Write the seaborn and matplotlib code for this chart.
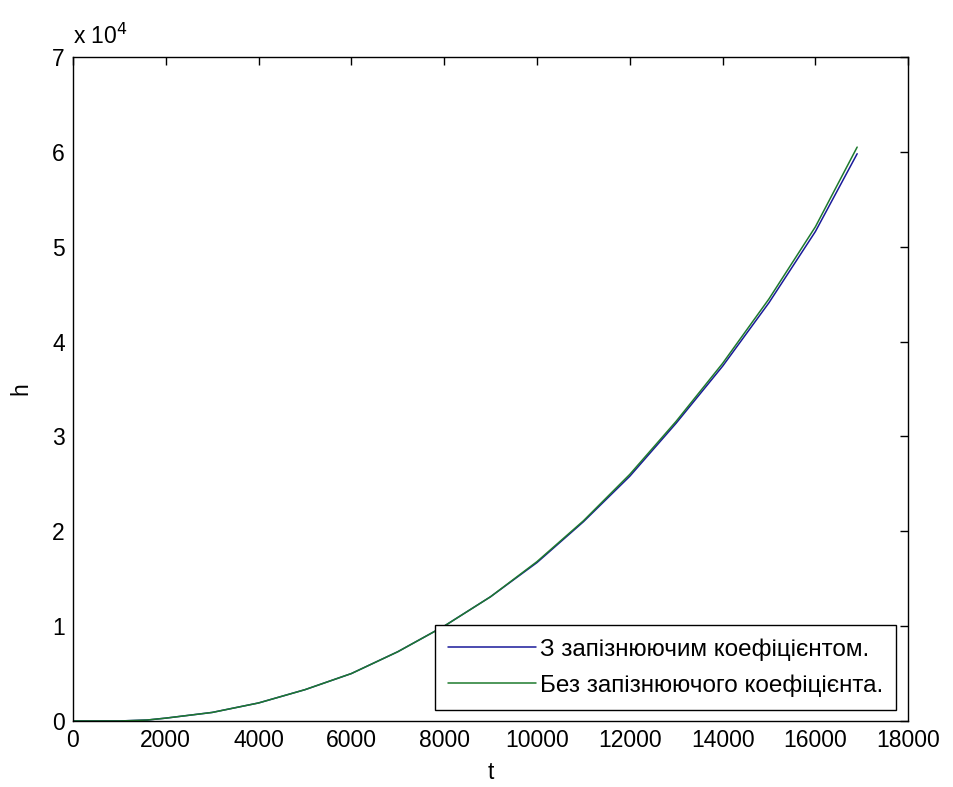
import pandas as pd
import matplotlib
matplotlib.use("Agg")
import matplotlib.pyplot as plt
import matplotlib.ticker as mticker
import seaborn as sns

# values (h in units of 10^4)
t = [0, 1000, 1600, 2000, 3000, 4000, 5000, 6000, 7000, 8000,
     9000, 10000, 11000, 12000, 13000, 14000, 15000, 16000, 16900]
h_lag = [0, 0, 0.01, 0.03, 0.09, 0.19, 0.33, 0.50, 0.73, 1.00,
         1.31, 1.67, 2.10, 2.58, 3.14, 3.74, 4.41, 5.16, 5.98]
h_nolag = [0, 0, 0.01, 0.03, 0.09, 0.19, 0.33, 0.50, 0.73, 1.00,
           1.31, 1.68, 2.11, 2.60, 3.16, 3.77, 4.45, 5.21, 6.05]
labels = ["З запізнюючим коефіцієнтом.", "Без запізнюючого коефіцієнта."]

df = pd.concat([
    pd.DataFrame({"t": t, "h": [v * 1e4 for v in h_lag], "series": labels[0]}),
    pd.DataFrame({"t": t, "h": [v * 1e4 for v in h_nolag], "series": labels[1]}),
])

sns.set_style("white")
plt.rcParams["font.family"] = ["Liberation Sans", "DejaVu Sans"]
plt.rcParams["text.color"] = "black"
plt.rcParams["axes.labelcolor"] = "black"

fig = plt.figure(figsize=(9.54, 7.87), dpi=100)
ax = fig.add_axes([0.0765, 0.0839, 0.8755, 0.8437])

sns.lineplot(data=df, x="t", y="h", hue="series", sort=False,
             palette=["#1a1a9a", "#1e7a2e"], linewidth=1.1, ax=ax)

ax.set_xlim(0, 18000)
ax.set_ylim(0, 70000)
ax.set_xticks(range(0, 18001, 2000))
ax.set_yticks(range(0, 70001, 10000))
ax.yaxis.set_major_formatter(mticker.FuncFormatter(lambda v, p: f"{v / 1e4:g}"))
ax.tick_params(direction="in", length=6, width=1, top=True, right=True,
               labelsize=16.5, colors="black", pad=6)
for s in ax.spines.values():
    s.set_visible(True)
    s.set_color("black")
    s.set_linewidth(1)

ax.set_xlabel("t", fontsize=16.5, labelpad=6)
ax.set_ylabel("h", fontsize=16.5, labelpad=14)
ax.text(0.0, 1.012, r"x 10$^4$", transform=ax.transAxes, fontsize=16.5,
        ha="left", va="bottom")

leg = ax.legend(loc="lower right", bbox_to_anchor=(0.9856, 0.0166), borderaxespad=0,
                fontsize=17.5, frameon=True, fancybox=False, handlelength=3.6,
                borderpad=0.55, labelspacing=0.55, handletextpad=0.15)
leg.get_frame().set_edgecolor("black")
leg.get_frame().set_linewidth(1)
leg.get_frame().set_alpha(1)
for txt in leg.get_texts():
    txt.set_color("black")

fig.savefig("out.png", dpi=100)
